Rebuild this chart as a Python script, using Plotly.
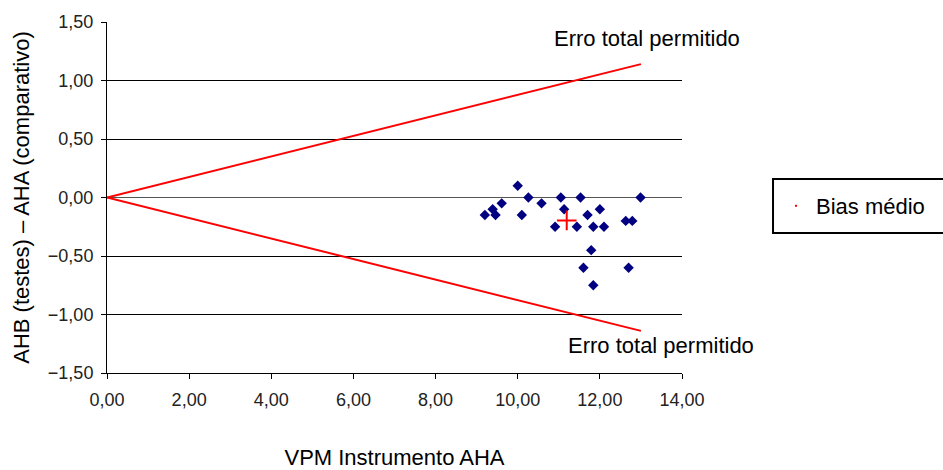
import plotly.graph_objects as go

# VPM from instrument AHA and difference AHB (tests) - AHA (comparative)
vpm_aha = [10.00, 10.26, 9.61, 9.39, 9.20, 9.46, 10.10, 10.58, 11.05, 11.13, 10.91, 11.44,
           11.53, 11.70, 12.00, 11.84, 12.10, 11.79, 11.60, 11.84, 12.63, 12.79, 12.70, 12.99]
diff_ahb_aha = [0.10, 0.00, -0.05, -0.10, -0.15, -0.15, -0.15, -0.05, 0.00, -0.10, -0.25, -0.25,
                0.00, -0.15, -0.10, -0.25, -0.25, -0.45, -0.60, -0.75, -0.20, -0.20, -0.60, 0.00]

# Allowed total error limits
limit_x = [0.0, 13.0]
limit_upper = [0.0, 1.14]
limit_lower = [0.0, -1.14]

bias_x = [sum(vpm_aha) / len(vpm_aha)]
bias_y = [sum(diff_ahb_aha) / len(diff_ahb_aha)]

y_ticks = [-1.5, -1.0, -0.5, 0.0, 0.5, 1.0, 1.5]
x_ticks = [0, 2, 4, 6, 8, 10, 12, 14]

FONT = "Liberation Sans, Arial, sans-serif"

fig = go.Figure()

fig.add_trace(go.Scatter(x=limit_x, y=limit_upper, mode="lines",
                         line=dict(color="#ff0000", width=2), showlegend=False))
fig.add_trace(go.Scatter(x=limit_x, y=limit_lower, mode="lines",
                         line=dict(color="#ff0000", width=2), showlegend=False))

fig.add_trace(go.Scatter(x=vpm_aha, y=diff_ahb_aha, mode="markers",
                         marker=dict(symbol="diamond", size=8, color="#000080"),
                         showlegend=False))

fig.add_trace(go.Scatter(x=bias_x, y=bias_y, mode="markers",
                         marker=dict(symbol="cross-thin", size=14, color="#ff0000",
                                     line=dict(color="#ff0000", width=2)),
                         showlegend=False))

# legend entry for the mean bias
fig.add_trace(go.Scatter(x=[None], y=[None], mode="markers", name="Bias médio",
                         marker=dict(symbol="square", size=2, color="#ff0000")))

fig.add_annotation(x=10.835, y=1.355, xanchor="left", yanchor="middle",
                   text="Erro total permitido", showarrow=False,
                   font=dict(family=FONT, size=22, color="#000000"))
fig.add_annotation(x=11.176, y=-1.261, xanchor="left", yanchor="middle",
                   text="Erro total permitido", showarrow=False,
                   font=dict(family=FONT, size=22, color="#000000"))

# frame around the legend
fig.add_shape(type="rect", xref="paper", yref="paper",
              x0=1.1583, x1=1.46, y0=0.399, y1=0.5527,
              line=dict(color="#000000", width=2), fillcolor="rgba(0,0,0,0)")

fig.update_layout(
    width=943, height=470,
    margin=dict(l=107, r=261, t=22, b=97, autoexpand=False),
    paper_bgcolor="white", plot_bgcolor="white",
    separators=",.",
    font=dict(family=FONT, color="#000000"),
    showlegend=True,
    legend=dict(x=1.1635, y=0.4758, xanchor="left", yanchor="middle",
                borderwidth=0, bgcolor="rgba(0,0,0,0)",
                font=dict(family=FONT, size=22, color="#000000"),
                itemwidth=30),
    xaxis=dict(range=[0, 14], tickvals=x_ticks, tickformat=".2f",
               showgrid=False, zeroline=False, automargin=False,
               showline=True, linecolor="#000000", linewidth=1,
               ticks="outside", ticklen=5, tickcolor="#000000",
               ticklabelstandoff=5,
               tickfont=dict(family=FONT, size=18, color="#222222"),
               title=dict(text="VPM Instrumento AHA", standoff=48,
                          font=dict(family=FONT, size=22, color="#000000"))),
    yaxis=dict(range=[-1.5, 1.5], tickvals=y_ticks, tickformat=".2f",
               showgrid=True, gridcolor="#000000", gridwidth=1,
               zeroline=True, zerolinecolor="#555555", zerolinewidth=1,
               showline=True, linecolor="#000000", linewidth=1, automargin=False,
               ticks="outside", ticklen=5, tickcolor="#000000",
               ticklabelstandoff=4,
               tickfont=dict(family=FONT, size=18, color="#222222"),
               title=dict(text="AHB (testes) – AHA (comparativo)", standoff=12,
                          font=dict(family=FONT, size=22, color="#000000"))),
)

fig.write_html("out.html")
